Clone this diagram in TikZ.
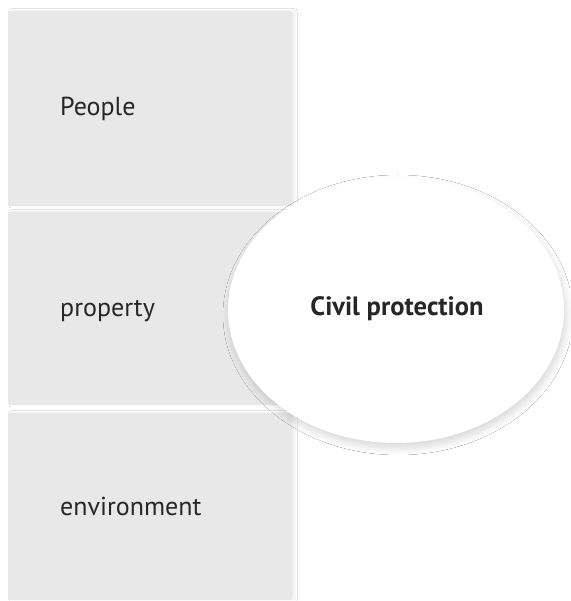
\documentclass[tikz,border=0pt]{standalone}
\usepackage{fontspec}
\setmainfont{PT Sans}
\usetikzlibrary{shadows.blur,shapes.geometric}
\begin{document}
\begin{tikzpicture}[x=1pt,y=1pt,
  panel/.style={fill=gray!18, draw=none, blur shadow={shadow xshift=3pt, shadow yshift=0pt, shadow blur radius=2pt, shadow blur steps=8, shadow blur extra rounding=0pt, shadow opacity=7}},
  lab/.style={anchor=base west, inner sep=0pt, font=\fontsize{26}{30}\selectfont, text=black!85},
  bubble/.style={ellipse, fill=white, draw=none, minimum width=336pt, minimum height=266pt, inner sep=0pt,
    blur shadow={shadow xshift=2pt, shadow yshift=-5pt, shadow blur radius=7pt, shadow blur steps=12, shadow opacity=16}}]
\useasboundingbox (0,0) rectangle (570,601);
\fill[white] (0,0) rectangle (570,601);
\path[panel] (8,395) rectangle (292,590);
\path[panel] (8,196) rectangle (292,389);
\path[panel] (8,1) rectangle (292,188);
\node[lab] (people) at (60,485) {People};
\node[lab] (property) at (60,284) {property};
\node[lab] (environment) at (60,85) {environment};
\node[bubble] (civil) at (396,291) {};
\node[anchor=base, inner sep=0pt, font=\bfseries\fontsize{26.5}{30}\selectfont, text=black!85] (civtext) at (397,285) {Civil protection};
\end{tikzpicture}
\end{document}
